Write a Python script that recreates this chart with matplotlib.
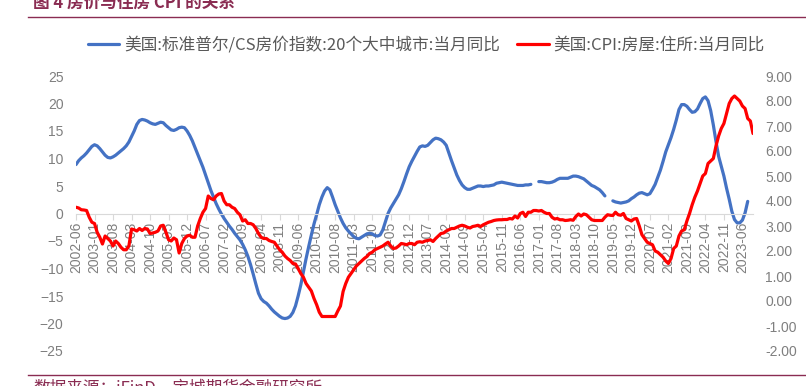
import matplotlib
matplotlib.use("Agg")
import matplotlib.pyplot as plt
import numpy as np
import pandas as pd

plt.rcParams['font.family'] = ['Noto Sans CJK SC', 'DejaVu Sans']

# mois : 2002-06 -> 2023-10
mois = pd.period_range("2002-06", "2023-10", freq="M").strftime("%Y-%m").tolist()

nan = np.nan
# S&P/CS 20 villes, glissement annuel (%), 2002-06 -> 2023-08
cs20 = [
    8.9, 9.6, 10.1, 10.5, 11.0, 11.6, 12.2,                            # 2002
    12.5, 12.3, 11.8, 11.2, 10.6, 10.2, 10.1, 10.3, 10.6, 11.0, 11.4, 11.8,  # 2003
    12.3, 13.0, 14.0, 15.0, 16.2, 16.9, 17.1, 17.0, 16.8, 16.5, 16.3, 16.2,  # 2004
    16.4, 16.6, 16.5, 16.0, 15.6, 15.2, 15.1, 15.3, 15.6, 15.7, 15.6, 15.0,  # 2005
    14.2, 13.2, 12.0, 10.8, 9.6, 8.4, 7.0, 5.6, 4.2, 3.0, 1.8, 0.8,          # 2006
    -0.1, -0.9, -1.6, -2.3, -2.9, -3.6, -4.2, -4.8, -5.6, -6.6, -7.8, -9.3,  # 2007
    -11.0, -12.8, -14.5, -15.5, -16.0, -16.3, -16.8, -17.4, -17.9, -18.3, -18.7, -19.0,  # 2008
    -19.1, -19.0, -18.7, -18.0, -16.8, -15.0, -13.0, -10.6, -8.2, -6.0, -3.9, -1.9,  # 2009
    -0.2, 1.6, 3.0, 4.1, 4.7, 4.3, 3.0, 1.6, 0.4, -0.8, -1.8, -2.6,          # 2010
    -3.2, -3.7, -4.2, -4.5, -4.6, -4.3, -4.0, -3.7, -3.6, -3.7, -4.0, -4.1,  # 2011
    -3.9, -3.0, -1.5, 0.0, 1.0, 1.8, 2.6, 3.4, 4.5, 5.8, 7.2, 8.5,           # 2012
    9.5, 10.4, 11.3, 12.1, 12.3, 12.2, 12.4, 12.9, 13.4, 13.7, 13.6, 13.4,   # 2013
    13.0, 12.4, 11.0, 9.6, 8.3, 7.0, 6.0, 5.2, 4.7, 4.4, 4.4, 4.6,           # 2014
    4.8, 5.0, 5.0, 4.9, 5.0, 5.0, 5.1, 5.2, 5.5, 5.6, 5.7, 5.6,              # 2015
    5.5, 5.4, 5.3, 5.2, 5.1, 5.1, 5.1, 5.2, 5.2, 5.3, nan, nan,              # 2016
    5.8, 5.8, 5.7, 5.6, 5.6, 5.7, 5.9, 6.2, 6.4, 6.4, 6.4, 6.4,              # 2017
    6.6, 6.8, 6.8, 6.7, 6.5, 6.3, 5.9, 5.5, 5.1, 4.9, 4.6, 4.3,              # 2018
    3.8, 3.2, nan, nan, 2.3, 2.1, 2.0, 1.9, 2.0, 2.1, 2.3, 2.7,              # 2019
    3.0, 3.4, 3.7, 3.8, 3.6, 3.4, 3.6, 4.4, 5.3, 6.6, 7.9, 9.5,              # 2020
    11.2, 12.5, 13.8, 15.3, 17.0, 18.9, 19.8, 19.8, 19.5, 18.9, 18.4, 18.5,  # 2021
    19.0, 20.0, 20.9, 21.2, 20.5, 18.7, 16.1, 13.1, 10.4, 8.6, 6.8, 4.6,     # 2022
    2.6, 0.4, -1.1, -1.7, -1.7, -1.2, 0.1, 2.2,                              # 2023
]

# CPI logement (shelter), glissement annuel (%), 2002-06 -> 2023-10
cpi_logement = [
    3.75, 3.72, 3.65, 3.64, 3.62, 3.35, 3.15,                               # 2002
    3.10, 2.75, 2.55, 2.28, 2.60, 2.50, 2.40, 2.20, 2.40, 2.30, 2.15, 2.05,  # 2003
    2.05, 2.20, 2.88, 2.85, 2.80, 2.90, 2.82, 2.90, 2.88, 2.70, 2.72, 2.75,  # 2004
    2.80, 3.00, 3.03, 2.75, 2.45, 2.40, 2.52, 2.45, 1.92, 2.30, 2.50, 2.60,  # 2005
    2.63, 2.55, 2.55, 3.00, 3.30, 3.55, 3.70, 4.20, 4.10, 4.05, 4.20, 4.28,  # 2006
    4.30, 4.00, 3.85, 3.85, 3.75, 3.70, 3.55, 3.45, 3.20, 3.25, 3.10, 3.10,  # 2007
    3.05, 2.90, 2.70, 2.55, 2.50, 2.50, 2.42, 2.38, 2.35, 2.20, 2.05, 1.95,  # 2008
    1.80, 1.70, 1.62, 1.50, 1.48, 1.30, 1.10, 0.95, 0.70, 0.55, 0.40, 0.10,  # 2009
    -0.15, -0.45, -0.62, -0.62, -0.62, -0.62, -0.62, -0.62, -0.40, -0.20, 0.38, 0.70,  # 2010
    0.95, 1.10, 1.25, 1.40, 1.50, 1.60, 1.70, 1.78, 1.90, 1.95, 2.05, 2.10,  # 2011
    2.15, 2.20, 2.28, 2.35, 2.20, 2.10, 2.12, 2.20, 2.30, 2.28, 2.25, 2.30,  # 2012
    2.30, 2.25, 2.35, 2.37, 2.35, 2.40, 2.42, 2.45, 2.38, 2.50, 2.60, 2.70,  # 2013
    2.72, 2.80, 2.85, 2.90, 2.90, 2.95, 3.00, 3.03, 3.00, 2.95, 2.92, 2.98,  # 2014
    3.00, 3.03, 2.98, 3.05, 3.10, 3.15, 3.18, 3.22, 3.24, 3.25, 3.25, 3.26,  # 2015
    3.26, 3.30, 3.28, 3.40, 3.32, 3.50, 3.55, 3.38, 3.55, 3.55, 3.62, 3.62,  # 2016
    3.60, 3.62, 3.55, 3.50, 3.50, 3.35, 3.28, 3.30, 3.25, 3.25, 3.22, 3.23,  # 2017
    3.25, 3.23, 3.38, 3.48, 3.40, 3.48, 3.45, 3.35, 3.25, 3.22, 3.22, 3.22,  # 2018
    3.22, 3.35, 3.45, 3.43, 3.42, 3.55, 3.45, 3.43, 3.50, 3.30, 3.25, 3.20,  # 2019
    3.28, 3.30, 3.00, 2.65, 2.50, 2.35, 2.30, 2.25, 2.00, 1.95, 1.85, 1.75,  # 2020
    1.60, 1.50, 1.70, 2.10, 2.20, 2.60, 2.80, 2.85, 3.20, 3.50, 3.85, 4.15,  # 2021
    4.40, 4.70, 5.00, 5.10, 5.50, 5.60, 5.70, 6.20, 6.60, 6.90, 7.10, 7.50,  # 2022
    7.90, 8.10, 8.20, 8.10, 8.00, 7.80, 7.70, 7.30, 7.20, 6.70,              # 2023
]

nom_cs = "美国:标准普尔/CS房价指数:20个大中城市:当月同比"
nom_cpi = "美国:CPI:房屋:住所:当月同比"

gris = '#7f7f7f'
bordeaux = '#8a2c52'

fig = plt.figure(figsize=(8.06, 3.86), dpi=100)
ax = fig.add_axes([76 / 806, 1 - 351 / 386, (753 - 76) / 806, (351 - 76) / 386])
ax2 = ax.twinx()

l1, = ax.plot(np.arange(len(cs20)), cs20, color='#4472C4', lw=2.3, solid_capstyle='round')
l2, = ax2.plot(np.arange(len(cpi_logement)), cpi_logement, color='#FF0000', lw=2.3,
               solid_capstyle='round')

ax.set_xlim(0, len(mois) - 1)
ax.set_ylim(-25, 25)
ax2.set_ylim(-2, 9)
ax.set_yticks(np.arange(-25, 26, 5))
ax2.set_yticks(np.arange(-2, 10, 1))
ax2.set_yticklabels([f"{v:.2f}" for v in np.arange(-2, 10, 1)])

pos = np.arange(0, len(mois), 7)
ax.set_xticks(pos)
ax.set_xticklabels([mois[i] for i in pos])

for a in (ax, ax2):
    for s in a.spines.values():
        s.set_visible(False)
ax.spines['bottom'].set_visible(True)
ax.spines['bottom'].set_position(('data', 0))
ax.spines['bottom'].set_color('#d9d9d9')
ax.tick_params(axis='x', length=4, color='#d9d9d9', pad=2, labelrotation=90,
               labelcolor=gris, labelsize=10)
ax.tick_params(axis='y', length=0, pad=9, labelcolor=gris, labelsize=10)
ax2.tick_params(axis='y', length=0, pad=9, labelcolor=gris, labelsize=10)
for t in ax.get_xticklabels() + ax.get_yticklabels() + ax2.get_yticklabels():
    t.set_family('Liberation Sans')

fig.legend([l1, l2], [nom_cs, nom_cpi], loc='center', bbox_to_anchor=(0.529, 0.883),
           ncol=2, frameon=False, fontsize=12, handlelength=1.9, handletextpad=0.3,
           columnspacing=1.0, labelcolor='#595959')

# en-tête et pied coupés
fig.text(33 / 806, 1 - 8 / 386, "图 4 房价与住房 CPI 的关系", fontsize=12, fontweight='bold',
         color=bordeaux, va='baseline')
fig.add_artist(plt.Line2D([28 / 806, 1], [1 - 16.7 / 386] * 2, color=bordeaux, lw=1))
fig.add_artist(plt.Line2D([28 / 806, 1], [1 - 374.5 / 386] * 2, color=bordeaux, lw=1))
fig.text(33 / 806, 1 - 379 / 386, "数据来源：iFinD，宝城期货金融研究所", fontsize=12,
         color=bordeaux, va='top')

fig.savefig("out.png", dpi=100)
plt.close()
